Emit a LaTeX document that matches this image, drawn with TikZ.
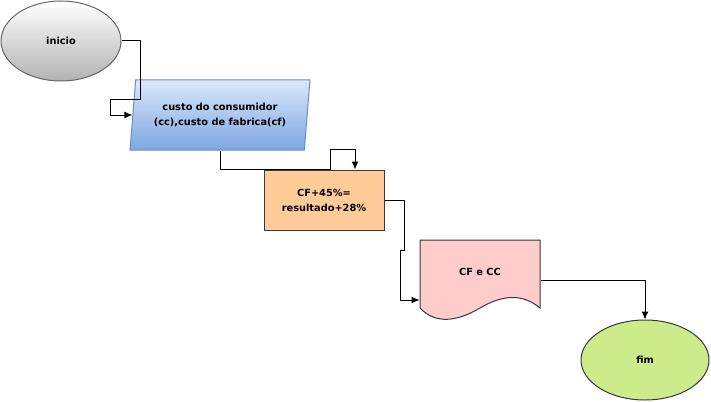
\documentclass[tikz,border=0pt]{standalone}
\usepackage{fontspec}
\setmainfont{DejaVu Sans}
\usetikzlibrary{shapes.geometric,arrows.meta}
\definecolor{cinzaborda}{HTML}{666666}
\definecolor{azulclaro}{HTML}{DAE8FC}
\definecolor{azulescuro}{HTML}{7EA6E0}
\definecolor{azulborda}{HTML}{6C8EBF}
\definecolor{pessego}{HTML}{FFCC99}
\definecolor{rosa}{HTML}{FFCCCC}
\definecolor{verde}{HTML}{CDEB8B}
\definecolor{borda}{HTML}{36393D}
\begin{document}
\begin{tikzpicture}[x=1pt,y=-1pt,line width=1pt,
            font=\fontsize{9.8}{15}\selectfont\bfseries,
            terminal/.style={ellipse, draw=borda, minimum width=120pt, minimum height=80pt},
            entradadados/.style={trapezium, trapezium left angle=79.5, trapezium right angle=100.5,
                trapezium stretches=true, draw=azulborda, top color=azulclaro, bottom color=azulescuro,
                minimum width=180pt, minimum height=70pt, align=center, inner sep=0pt},
            processo/.style={rectangle, draw=borda, fill=pessego, minimum width=120pt,
                minimum height=60pt, align=center},
            documento/.style={rectangle, minimum width=120pt, minimum height=80pt, inner sep=0pt},
            seta/.style={-{Latex[length=8pt,width=7pt]}}]
            \useasboundingbox (0,0) rectangle (711,401);
            % nos
            \node[terminal, draw=cinzaborda, top color=white, bottom color=black!30] (inicio) at (61,41) {inicio};
            \node[entradadados] (entrada) at (220,115) {custo do consumidor\\(cc),custo de fabrica(cf)};
            \node[processo] (calculo) at (324,200) {CF+45\%=\\resultado+28\%};
            \node[documento] (saida) at (480,280) {};
            \path [draw=borda, fill=rosa] (420,240) -- (540,240) -- (540,308)
                .. controls (522,293) and (502,295) .. (480,308)
                .. controls (458,321) and (436,325) .. (420,308) -- cycle;
            \node (saidatexto) at (480,272) {CF e CC};
            \node[terminal, fill=verde, minimum width=128pt] (fim) at (645,360) {fim};
            % conectores
            \draw[seta] (inicio.east) -- ++(19,0) -- ++(0,59) -- ++(-30,0) |- (entrada.west);
            \draw[seta] (entrada.south) |- (calculo.north west) -- ([xshift=6pt]calculo.north)
                -- ++(0,-20) -| ([xshift=31pt]calculo.north);
            \draw[seta] (calculo.east) -- ++(20,0) -- ++(0,50) -- ++(-4,0) |- ([yshift=-20pt]saida.west);
            \draw[seta] (saida.east) -| (fim.north);
        \end{tikzpicture}
\end{document}
